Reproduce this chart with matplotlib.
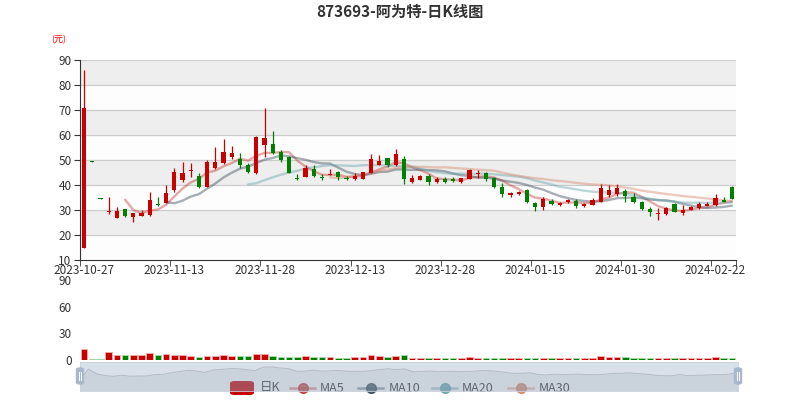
import numpy as np
import matplotlib
matplotlib.use("Agg")
import matplotlib.pyplot as plt
from matplotlib.patches import Rectangle, FancyBboxPatch
from matplotlib.lines import Line2D

plt.rcParams['font.family'] = ['Noto Sans CJK SC', 'DejaVu Sans']

title = "873693-阿为特-日K线图"
unit_label = "(元)"

dates = ["2023-10-27","2023-10-30","2023-10-31","2023-11-01","2023-11-02","2023-11-03","2023-11-06","2023-11-07","2023-11-08","2023-11-09",
         "2023-11-10","2023-11-13","2023-11-14","2023-11-15","2023-11-16","2023-11-17","2023-11-20","2023-11-21","2023-11-22","2023-11-23",
         "2023-11-24","2023-11-27","2023-11-28","2023-11-29","2023-11-30","2023-12-01","2023-12-04","2023-12-05","2023-12-06","2023-12-07",
         "2023-12-08","2023-12-11","2023-12-12","2023-12-13","2023-12-14","2023-12-15","2023-12-18","2023-12-19","2023-12-20","2023-12-21",
         "2023-12-22","2023-12-25","2023-12-26","2023-12-27","2023-12-28","2023-12-29","2024-01-02","2024-01-03","2024-01-04","2024-01-05",
         "2024-01-08","2024-01-09","2024-01-10","2024-01-11","2024-01-12","2024-01-15","2024-01-16","2024-01-17","2024-01-18","2024-01-19",
         "2024-01-22","2024-01-23","2024-01-24","2024-01-25","2024-01-26","2024-01-29","2024-01-30","2024-01-31","2024-02-01","2024-02-02",
         "2024-02-05","2024-02-06","2024-02-07","2024-02-08","2024-02-19","2024-02-20","2024-02-21","2024-02-22","2024-02-23","2024-02-26"]

opens = [15.0, 49.6, 34.7, 29.1, 26.9, 30.3, 27.1, 27.6, 27.9, 32.5,
         32.9, 37.9, 41.9, 45.8, 43.6, 39.3, 46.7, 48.7, 51.1, 50.5,
         47.9, 44.9, 56.0, 56.3, 53.2, 51.3, 42.9, 43.1, 46.3, 43.1,
         43.9, 45.1, 42.9, 42.4, 42.5, 44.9, 48.1, 50.7, 48.0, 50.3,
         41.1, 42.1, 43.7, 41.1, 42.3, 42.5, 41.1, 42.3, 44.4, 44.8,
         42.9, 39.3, 36.0, 36.4, 38.0, 32.7, 31.1, 33.6, 31.9, 33.2,
         33.6, 31.5, 32.0, 33.3, 36.0, 36.4, 37.7, 35.3, 33.3, 30.4,
         28.5, 28.3, 32.4, 28.7, 30.0, 30.7, 31.6, 31.9, 34.0, 39.3]
closes = [70.7, 49.4, 34.5, 29.6, 29.6, 27.6, 28.7, 28.8, 34.0, 32.0,
          36.9, 45.2, 44.8, 46.2, 39.3, 49.3, 49.3, 53.2, 52.8, 48.1,
          45.3, 59.3, 58.7, 52.7, 50.0, 44.9, 42.5, 46.7, 43.6, 42.7,
          44.4, 43.1, 42.5, 43.7, 45.1, 50.5, 49.6, 48.1, 52.4, 42.5,
          42.9, 43.7, 41.3, 42.5, 41.3, 41.6, 42.7, 45.9, 44.9, 42.4,
          39.1, 36.3, 36.7, 37.3, 33.1, 31.3, 34.3, 32.5, 32.9, 33.9,
          31.7, 32.3, 34.1, 38.7, 38.2, 38.7, 35.7, 33.3, 30.5, 29.2,
          28.9, 30.9, 29.3, 30.0, 31.3, 32.4, 32.4, 34.7, 33.3, 34.4]
lows = [15.0, 49.3, 34.4, 28.3, 26.7, 27.3, 25.3, 27.5, 27.6, 31.6,
        32.9, 37.3, 41.1, 43.3, 38.9, 39.3, 46.3, 48.4, 50.4, 46.9,
        44.9, 44.3, 51.3, 52.3, 49.1, 44.7, 42.0, 43.1, 43.2, 42.1,
        43.9, 42.0, 41.9, 42.1, 42.4, 44.9, 48.0, 47.3, 47.5, 40.3,
        41.0, 42.0, 40.0, 41.0, 40.9, 41.1, 41.0, 42.3, 43.0, 41.7,
        38.7, 35.3, 35.3, 36.2, 32.7, 29.7, 30.0, 32.1, 31.6, 32.8,
        30.9, 31.4, 31.9, 33.2, 35.3, 35.6, 33.1, 32.7, 30.0, 27.6,
        26.0, 28.2, 29.1, 28.0, 29.9, 30.6, 31.5, 31.8, 33.2, 34.4]
highs = [86.0, 49.7, 34.8, 35.1, 31.3, 30.5, 28.8, 30.0, 37.3, 35.1,
         39.9, 46.7, 49.1, 48.7, 44.9, 50.0, 55.3, 58.4, 55.7, 52.7,
         48.7, 59.7, 71.0, 61.6, 54.0, 51.6, 44.3, 48.0, 48.0, 44.3,
         46.4, 45.5, 43.6, 44.9, 45.3, 52.4, 52.0, 50.8, 54.4, 51.6,
         44.0, 43.9, 44.4, 43.3, 43.3, 43.2, 42.8, 46.3, 46.0, 45.3,
         43.3, 40.7, 37.2, 37.7, 38.3, 33.1, 35.1, 34.4, 33.3, 34.5,
         34.4, 32.7, 34.7, 40.3, 40.0, 40.4, 38.4, 36.7, 33.6, 31.3,
         30.7, 31.3, 32.7, 32.0, 31.5, 33.1, 33.1, 36.4, 35.1, 39.6]
volumes = [12.0, 1.0, 1.0, 9.3, 6.0, 5.2, 5.6, 5.2, 7.8, 5.2,
           6.7, 5.6, 5.6, 4.5, 3.7, 4.8, 4.8, 5.6, 4.5, 4.5,
           4.5, 7.1, 7.1, 4.5, 3.7, 3.7, 3.0, 4.8, 3.7, 3.0,
           3.3, 2.6, 2.2, 3.3, 3.3, 6.0, 4.1, 3.0, 4.8, 5.2,
           2.6, 2.6, 2.6, 2.2, 2.6, 2.2, 2.2, 3.7, 2.6, 2.6,
           2.2, 2.2, 1.8, 1.8, 2.2, 1.8, 2.2, 1.8, 1.8, 1.8,
           1.8, 1.8, 2.2, 4.5, 3.7, 3.3, 3.3, 2.6, 2.6, 2.6,
           2.2, 2.2, 2.6, 2.2, 2.2, 2.2, 2.2, 3.3, 2.6, 2.6]

ma_periods = [5, 10, 20, 30]
ma_names = ["MA5", "MA10", "MA20", "MA30"]
ma_colors = ["#c23531", "#2f4554", "#61a0a8", "#d48265"]
UP = "#c80000"
DOWN = "#008000"

W, H = 800, 400
def fx(px): return px / W
def fy(py): return 1 - py / H

fig = plt.figure(figsize=(8, 4), dpi=100)
fig.patch.set_facecolor("white")

n = len(dates)
x = np.arange(n)
o = np.array(opens); c = np.array(closes); lo = np.array(lows); hi = np.array(highs)
up = c >= o
cols = np.where(up, UP, DOWN)

# ---- main candlestick axes ----
ax = fig.add_axes([fx(80), fy(260), fx(736) - fx(80), fy(60) - fy(260)])
ax.set_xlim(-0.5, n - 0.5)
ax.set_ylim(10, 90)
yt = np.arange(10, 91, 10)
for k in range(len(yt) - 1):
    col = "#eeeeee" if k % 2 == 1 else "#fdfdfd"
    ax.axhspan(yt[k], yt[k + 1], color=col, zorder=0, lw=0)
for v in yt[1:]:
    ax.axhline(v, color="#cccccc", lw=0.9, zorder=1)

ax.vlines(x, lo, hi, colors=cols, lw=0.9, zorder=3)
body_bottom = np.minimum(o, c)
body_h = np.maximum(np.abs(c - o), 0.25)
ax.bar(x, body_h, bottom=body_bottom, width=0.5, color=cols, lw=0, zorder=4)

def calc_ma(vals, p):
    out = np.full(len(vals), np.nan)
    for i in range(p, len(vals)):
        out[i] = np.mean(vals[i - p + 1:i + 1])
    return out

for p, col in zip(ma_periods, ma_colors):
    ax.plot(x, calc_ma(c, p), color=col, lw=1.7, alpha=0.42, zorder=2, solid_capstyle="round")

for s in ["top", "right"]:
    ax.spines[s].set_visible(False)
ax.spines["left"].set_color("#333333")
ax.spines["bottom"].set_color("#333333")
ax.set_yticks(yt)
ax.tick_params(axis="y", length=4, color="#333333", labelcolor="#333333", labelsize=8.5, pad=2)
lab_idx = list(range(0, n, 11))
ax.set_xticks(lab_idx)
ax.set_xticklabels([dates[i] for i in lab_idx])
ax.set_xticks(list(np.arange(-0.5, n - 1, 11)) + [n - 0.5], minor=True)
ax.tick_params(axis="x", which="major", length=0, labelcolor="#333333", labelsize=8.5, pad=3)
ax.tick_params(axis="x", which="minor", length=4, color="#333333")

fig.text(fx(59), fy(40), unit_label, color="red", fontsize=6.5, ha="center", va="center")
fig.text(0.5, fy(12), title, fontsize=11, fontweight="bold", color="#333333", ha="center", va="center")

# ---- volume axes ----
axv = fig.add_axes([fx(80), fy(360), fx(736) - fx(80), fy(280) - fy(360)])
axv.set_xlim(-0.5, n - 0.5)
axv.set_ylim(0, 90)
light = {UP: "#f0b0b0", DOWN: "#a8dca8"}
axv.bar(x, volumes, width=0.8, color=cols, edgecolor=[light[cc] for cc in cols], lw=0.6, zorder=2)
for s in ["top", "right", "left", "bottom"]:
    axv.spines[s].set_visible(False)
axv.set_xticks([])
axv.set_yticks([0, 30, 60, 90])
axv.tick_params(axis="y", length=0, labelcolor="#333333", labelsize=8.5, pad=6)
axv.patch.set_alpha(0)

# ---- legend (drawn beneath slider) ----
ly = fy(388)
leg_items = [("日K", None, 230, 260)] + [(nm, col, xs, xt) for nm, col, xs, xt in
             zip(ma_names, ma_colors, [290, 358, 432, 508], [320, 389, 462, 539])]
for name, col, xs, xt in leg_items:
    if col is None:
        fig.patches.append(FancyBboxPatch((fx(xs), fy(395)), fx(24), fy(381) - fy(395),
                                          boxstyle="round,pad=0,rounding_size=0.006",
                                          transform=fig.transFigure, facecolor=UP, edgecolor="none", zorder=0.5))
    else:
        fig.lines.append(Line2D([fx(xs), fx(xs + 25)], [ly, ly], color=col, lw=1.8, alpha=0.5,
                                transform=fig.transFigure, zorder=0.5))
        fig.lines.append(Line2D([fx(xs + 12.5)], [ly], marker="o", markersize=7, color=col, alpha=0.85,
                                markeredgecolor=col, transform=fig.transFigure, zorder=0.6, lw=0))
    fig.text(fx(xt), ly, name, fontsize=9, color="#333333", ha="left", va="center", zorder=0.7)

# ---- dataZoom slider ----
axs = fig.add_axes([fx(80), fy(391), fx(738) - fx(80), fy(362) - fy(391)], zorder=5)
axs.set_xlim(0, n - 1)
axs.set_ylim(0, 1)
axs.patch.set_alpha(0)
axs.add_patch(Rectangle((0, 0), n - 1, 1, facecolor="#a7b7cc", alpha=0.42, edgecolor="none", zorder=1))
ov = np.array(opens)
shadow = 0.38 + 0.45 * (ov - ov.min()) / (ov.max() - ov.min())
axs.fill_between(x, 0, shadow, color="#2f4554", alpha=0.09, lw=0, zorder=2)
axs.plot(x, shadow, color="#2f4554", alpha=0.25, lw=0.6, zorder=3)
for s in axs.spines.values():
    s.set_color("#c8d0dc")
    s.set_linewidth(0.6)
axs.set_xticks([]); axs.set_yticks([])

for hx in [80, 738]:
    fig.patches.append(FancyBboxPatch((fx(hx - 3.5), fy(384)), fx(7), fy(368) - fy(384),
                                      boxstyle="round,pad=0,rounding_size=0.004",
                                      transform=fig.transFigure, facecolor="#a7b7cc",
                                      edgecolor="#a7b7cc", zorder=6))
    for dx in [-1.2, 1.2]:
        fig.lines.append(Line2D([fx(hx + dx), fx(hx + dx)], [fy(380), fy(372)], color="white", lw=0.7,
                                transform=fig.transFigure, zorder=7))

fig.savefig("out.png", dpi=100, facecolor="white")
